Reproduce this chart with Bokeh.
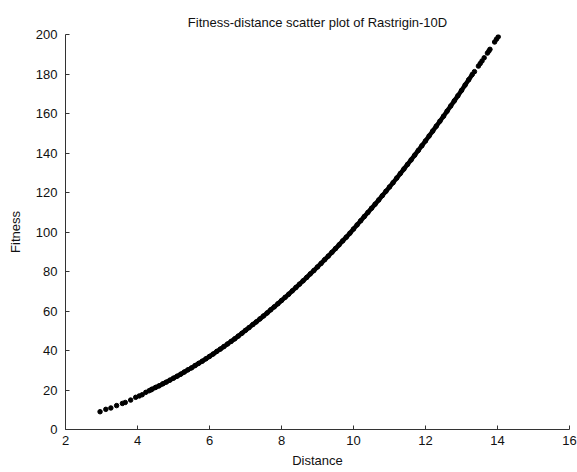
from bokeh.plotting import figure
from bokeh.models import Range1d, FixedTicker
from bokeh.embed import file_html
from bokeh.resources import INLINE

# sparse low-distance points
low_distance = [2.96, 3.12, 3.26, 3.42, 3.58, 3.66, 3.81, 3.95, 4.05, 4.13, 4.23, 4.32, 4.38]
low_fitness = [9.0, 10.2, 10.9, 12.1, 13.2, 13.7, 14.9, 16.3, 17.0, 17.6, 18.8, 19.6, 20.1]

# dense middle band
mid_distance = [4.4, 4.5, 4.6, 4.7, 4.8, 4.9, 5.0, 5.1, 5.2, 5.3, 5.4, 5.5, 5.6, 5.7, 5.8, 5.9,
                6.0, 6.1, 6.2, 6.3, 6.4, 6.5, 6.6, 6.7, 6.8, 6.9, 7.0, 7.1, 7.2, 7.3, 7.4, 7.5,
                7.6, 7.7, 7.8, 7.9, 8.0, 8.1, 8.2, 8.3, 8.4, 8.5, 8.6, 8.7, 8.8, 8.9, 9.0, 9.1,
                9.2, 9.3, 9.4, 9.5, 9.6, 9.7, 9.8, 9.9, 10.0, 10.1, 10.2, 10.3, 10.4, 10.5, 10.6,
                10.7, 10.8, 10.9, 11.0, 11.1, 11.2, 11.3, 11.4, 11.5, 11.6, 11.7, 11.8, 11.9, 12.0,
                12.1, 12.2, 12.3, 12.4, 12.5, 12.6, 12.7, 12.8, 12.9, 13.0, 13.1, 13.2, 13.3]
mid_fitness = [20.4, 21.3, 22.1, 23.1, 24.0, 25.0, 26.0, 27.0, 28.0, 29.1, 30.2, 31.2, 32.4, 33.5,
               34.6, 35.8, 37.0, 38.2, 39.5, 40.7, 42.0, 43.3, 44.6, 45.9, 47.3, 48.7, 50.2, 51.6,
               53.1, 54.5, 56.0, 57.5, 59.0, 60.6, 62.1, 63.7, 65.3, 66.9, 68.5, 70.2, 71.9, 73.6,
               75.3, 77.0, 78.8, 80.5, 82.3, 84.1, 86.0, 87.8, 89.7, 91.6, 93.5, 95.5, 97.4, 99.4,
               101.5, 103.6, 105.7, 107.8, 109.9, 112.0, 114.1, 116.2, 118.4, 120.6, 122.8, 125.0,
               127.3, 129.6, 131.9, 134.2, 136.5, 138.9, 141.3, 143.7, 146.1, 148.6, 151.1, 153.6,
               156.1, 158.6, 161.2, 163.8, 166.4, 169.0, 171.7, 174.4, 177.1, 179.8]

# sparse high-distance points
high_distance = [13.36, 13.47, 13.52, 13.57, 13.63, 13.72, 13.76, 13.79, 13.92, 13.97, 14.02]
high_fitness = [181.2, 184.0, 185.3, 186.6, 188.2, 190.6, 191.6, 192.5, 196.2, 197.6, 198.8]

x_ticks = [2, 4, 6, 8, 10, 12, 14, 16]
y_ticks = [0, 20, 40, 60, 80, 100, 120, 140, 160, 180, 200]

FONT = "Liberation Sans"

p = figure(width=577, height=472, output_backend="svg", toolbar_location=None,
           x_range=Range1d(2, 16), y_range=Range1d(0, 200),
           title="Fitness-distance scatter plot of Rastrigin-10D")
p.min_border_left = 65
p.min_border_right = 8
p.min_border_top = 34
p.min_border_bottom = 43
p.outline_line_color = None
p.grid.visible = False
p.background_fill_color = "white"
p.border_fill_color = "white"

p.title.align = "center"
p.title.text_font = FONT
p.title.text_font_size = "13px"
p.title.text_font_style = "normal"
p.title.text_color = "#111111"

for ax, ticks in ((p.xaxis[0], x_ticks), (p.yaxis[0], y_ticks)):
    ax.ticker = FixedTicker(ticks=ticks)
    ax.major_tick_in = 4
    ax.major_tick_out = 0
    ax.minor_tick_line_color = None
    ax.axis_line_color = "#333333"
    ax.major_tick_line_color = "#333333"
    ax.major_label_text_font = FONT
    ax.major_label_text_font_size = "13px"
    ax.major_label_text_color = "#111111"
    ax.axis_label_text_font = FONT
    ax.axis_label_text_font_size = "13px"
    ax.axis_label_text_font_style = "normal"
    ax.axis_label_text_color = "#111111"

p.xaxis.axis_label = "Distance"
p.yaxis.axis_label = "Fitness"
p.xaxis.major_label_standoff = 6
p.yaxis.major_label_standoff = 8
p.xaxis.axis_label_standoff = 5
p.yaxis.axis_label_standoff = 10

p.line(mid_distance, mid_fitness, line_color="black", line_width=4.5, line_join="round")
p.scatter(mid_distance, mid_fitness, marker="circle", size=4.5, color="black")
p.scatter(low_distance, low_fitness, marker="circle", size=4.5, color="black")
p.scatter(high_distance, high_fitness, marker="circle", size=4.5, color="black")

open("out.html", "w").write(file_html(p, INLINE))
